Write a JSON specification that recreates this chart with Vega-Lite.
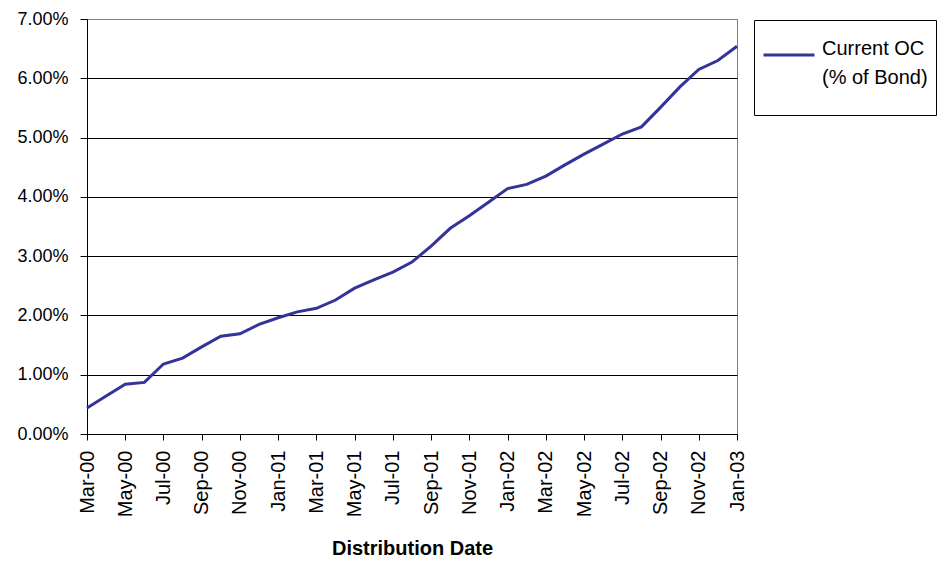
{
  "$schema": "https://vega.github.io/schema/vega-lite/v6.json",
  "autosize": "none",
  "width": 650,
  "height": 415,
  "padding": {"left": 87, "top": 19, "right": 212, "bottom": 127},
  "background": "white",
  "config": {
    "font": "Liberation Sans",
    "view": {"stroke": "#808080", "strokeWidth": 1},
    "style": {"guide-label": {"lineHeight": 29}}
  },
  "data": {
    "values": [
      {"month": "Mar-00", "oc": 0.0044, "series": "Current OC"},
      {"month": "Apr-00", "oc": 0.0064, "series": "Current OC"},
      {"month": "May-00", "oc": 0.0084, "series": "Current OC"},
      {"month": "Jun-00", "oc": 0.0087, "series": "Current OC"},
      {"month": "Jul-00", "oc": 0.0118, "series": "Current OC"},
      {"month": "Aug-00", "oc": 0.0128, "series": "Current OC"},
      {"month": "Sep-00", "oc": 0.0147, "series": "Current OC"},
      {"month": "Oct-00", "oc": 0.0165, "series": "Current OC"},
      {"month": "Nov-00", "oc": 0.0169, "series": "Current OC"},
      {"month": "Dec-00", "oc": 0.0185, "series": "Current OC"},
      {"month": "Jan-01", "oc": 0.0196, "series": "Current OC"},
      {"month": "Feb-01", "oc": 0.0206, "series": "Current OC"},
      {"month": "Mar-01", "oc": 0.0212, "series": "Current OC"},
      {"month": "Apr-01", "oc": 0.0226, "series": "Current OC"},
      {"month": "May-01", "oc": 0.0246, "series": "Current OC"},
      {"month": "Jun-01", "oc": 0.0260, "series": "Current OC"},
      {"month": "Jul-01", "oc": 0.0273, "series": "Current OC"},
      {"month": "Aug-01", "oc": 0.0290, "series": "Current OC"},
      {"month": "Sep-01", "oc": 0.0317, "series": "Current OC"},
      {"month": "Oct-01", "oc": 0.0347, "series": "Current OC"},
      {"month": "Nov-01", "oc": 0.0368, "series": "Current OC"},
      {"month": "Dec-01", "oc": 0.0391, "series": "Current OC"},
      {"month": "Jan-02", "oc": 0.0414, "series": "Current OC"},
      {"month": "Feb-02", "oc": 0.0421, "series": "Current OC"},
      {"month": "Mar-02", "oc": 0.0435, "series": "Current OC"},
      {"month": "Apr-02", "oc": 0.0454, "series": "Current OC"},
      {"month": "May-02", "oc": 0.0472, "series": "Current OC"},
      {"month": "Jun-02", "oc": 0.0489, "series": "Current OC"},
      {"month": "Jul-02", "oc": 0.0506, "series": "Current OC"},
      {"month": "Aug-02", "oc": 0.0518, "series": "Current OC"},
      {"month": "Sep-02", "oc": 0.0551, "series": "Current OC"},
      {"month": "Oct-02", "oc": 0.0585, "series": "Current OC"},
      {"month": "Nov-02", "oc": 0.0615, "series": "Current OC"},
      {"month": "Dec-02", "oc": 0.0630, "series": "Current OC"},
      {"month": "Jan-03", "oc": 0.0654, "series": "Current OC"}
    ]
  },
  "mark": {"type": "line", "strokeWidth": 3, "interpolate": "linear"},
  "encoding": {
    "x": {
      "field": "month",
      "type": "ordinal",
      "sort": null,
      "scale": {"type": "point", "padding": 0},
      "axis": {
        "title": "Distribution Date",
        "titleFont": "Liberation Sans",
        "titleFontSize": 20,
        "titleFontWeight": "bold",
        "titleColor": "black",
        "titlePadding": 22,
        "values": ["Mar-00","May-00","Jul-00","Sep-00","Nov-00","Jan-01","Mar-01","May-01","Jul-01","Sep-01","Nov-01","Jan-02","Mar-02","May-02","Jul-02","Sep-02","Nov-02","Jan-03"],
        "labelAngle": -90,
        "labelAlign": "right",
        "labelBaseline": "middle",
        "labelFontSize": 20,
        "labelColor": "black",
        "labelPadding": 10,
        "tickSize": 6,
        "tickColor": "black",
        "domainColor": "black",
        "grid": false
      }
    },
    "y": {
      "field": "oc",
      "type": "quantitative",
      "scale": {"domain": [0, 0.07], "nice": false, "zero": true},
      "axis": {
        "title": null,
        "format": ".2%",
        "values": [0, 0.01, 0.02, 0.03, 0.04, 0.05, 0.06, 0.07],
        "labelFontSize": 18,
        "labelColor": "black",
        "labelPadding": 12,
        "tickSize": 7,
        "tickColor": "black",
        "domainColor": "black",
        "grid": true,
        "gridColor": {"condition": {"test": "datum.value >= 0.07 || datum.value <= 0", "value": "#808080"}, "value": "#000000"},
        "gridOpacity": 1
      }
    },
    "color": {
      "field": "series",
      "type": "nominal",
      "scale": {"range": ["#333399"]},
      "legend": {
        "title": " ",
        "titleOrient": "bottom",
        "titleFontSize": 12,
        "titlePadding": 8,
        "orient": "none",
        "legendX": 667,
        "legendY": 1,
        "symbolType": "stroke",
        "symbolSize": 2601,
        "symbolStrokeWidth": 3,
        "labelExpr": "['Current OC', '(% of Bond)']",
        "labelFontSize": 20,
        "labelColor": "black",
        "labelBaseline": "alphabetic",
        "labelOffset": 6,
        "labelLimit": 300,
        "padding": 8,
        "strokeColor": "#000000",
        "fillColor": "white"
      }
    }
  }
}
